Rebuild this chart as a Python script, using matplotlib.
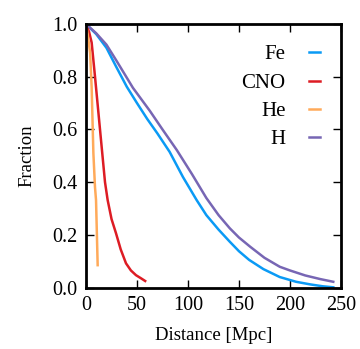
import numpy as np
import matplotlib.pyplot as plt

plt.rcParams['font.family'] = ['Liberation Serif', 'DejaVu Serif']
plt.rcParams['font.size'] = 12

# Fe
fe_x = [0, 10, 20, 30, 40, 50, 60, 70, 82, 95, 108.5, 118, 130, 141, 150, 160, 174, 190, 206, 220, 232, 242.5]
fe_y = [1.0, 0.962, 0.91, 0.835, 0.762, 0.70, 0.64, 0.585, 0.515, 0.42, 0.332, 0.275, 0.22, 0.174, 0.138, 0.105, 0.07, 0.04, 0.022, 0.012, 0.005, 0.001]
# CNO
cno_x = [0, 3, 5.5, 8.8, 13.7, 18.6, 21.2, 25, 29.4, 34, 39.2, 44, 49, 54, 58]
cno_y = [1.0, 0.97, 0.93, 0.80, 0.60, 0.40, 0.332, 0.26, 0.206, 0.145, 0.092, 0.065, 0.047, 0.035, 0.025]
# He
he_x = [0, 2, 4, 5.5, 7.2, 8.8, 9.8, 11.4]
he_y = [1.0, 0.95, 0.89, 0.76, 0.51, 0.38, 0.332, 0.085]
# H
h_x = [0, 10, 20, 30, 46, 62.7, 75, 89, 104, 118, 130, 141, 150, 161, 175, 190, 200, 215, 230, 242.5]
h_y = [1.0, 0.965, 0.922, 0.86, 0.758, 0.67, 0.60, 0.522, 0.43, 0.34, 0.275, 0.225, 0.19, 0.155, 0.113, 0.079, 0.065, 0.046, 0.032, 0.022]

fig = plt.figure(figsize=(3.6, 3.49), dpi=100)
ax = fig.add_axes([0.239, 0.176, 0.708, 0.755])

ax.plot(fe_x, fe_y, color='#0a9af5', lw=1.8, label='Fe')
ax.plot(cno_x, cno_y, color='#dd1c24', lw=1.8, label='CNO')
ax.plot(he_x, he_y, color='#ffaa5a', lw=1.8, label='He')
ax.plot(h_x, h_y, color='#7766b4', lw=1.8, label='H')

ax.set_xlim(0, 250)
ax.set_ylim(0, 1)
ax.set_xticks([0, 50, 100, 150, 200, 250])
ax.set_yticks([0, 0.2, 0.4, 0.6, 0.8, 1.0])
ax.set_yticklabels(['0.0', '0.2', '0.4', '0.6', '0.8', '1.0'])
ax.tick_params(direction='in', length=6, width=1, top=True, right=True, labelsize=14.5, pad=6)
for s in ax.spines.values():
    s.set_linewidth(2)
ax.set_xlabel('Distance [Mpc]', fontsize=13.5, labelpad=9)
ax.set_ylabel('Fraction', fontsize=13.5, labelpad=12)

ax.legend(loc='upper right', frameon=False, markerfirst=False, handlelength=0.55,
          fontsize=15, labelspacing=0.42, handletextpad=1.1, borderaxespad=0.6)

fig.savefig('out.png', dpi=100)
